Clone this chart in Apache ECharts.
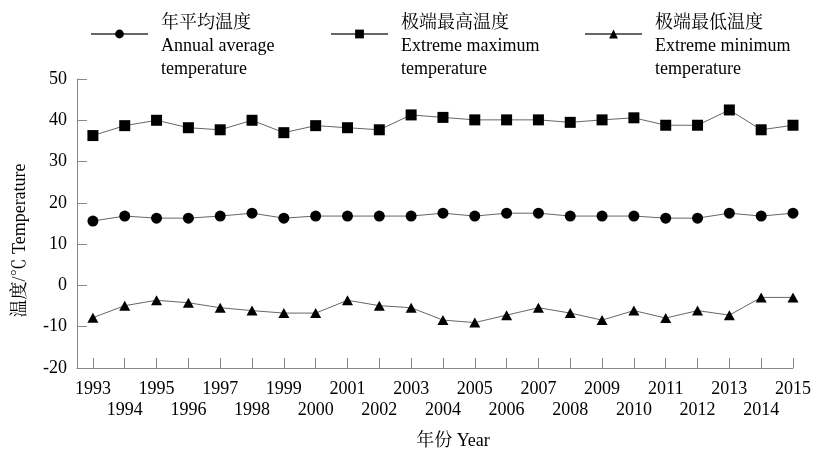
<!DOCTYPE html>
<html>
<head>
<meta charset="utf-8">
<script src="https://cdn.jsdelivr.net/npm/echarts@6/dist/echarts.min.js"></script>
<style>html,body{margin:0;padding:0;background:#fff}#c{width:815px;height:451px}</style>
</head>
<body>
<div id="c"></div>
<script>
var years = [1993,1994,1995,1996,1997,1998,1999,2000,2001,2002,2003,2004,2005,2006,2007,2008,2009,2010,2011,2012,2013,2014,2015];
var avgTemp = [15.6,16.8,16.3,16.3,16.8,17.5,16.3,16.8,16.8,16.8,16.8,17.5,16.8,17.5,17.5,16.8,16.8,16.8,16.3,16.3,17.5,16.8,17.5];
var maxTemp = [36.3,38.7,40.0,38.2,37.7,40.0,37.0,38.7,38.2,37.7,41.3,40.7,40.1,40.1,40.1,39.5,40.1,40.6,38.8,38.8,42.5,37.7,38.8];
var minTemp = [-7.8,-4.9,-3.6,-4.2,-5.4,-6.1,-6.7,-6.7,-3.6,-4.9,-5.4,-8.4,-9.0,-7.2,-5.4,-6.7,-8.4,-6.1,-7.9,-6.1,-7.2,-2.9,-2.9];
var yTicks = [-20,-10,0,10,20,30,40,50];
var oddYearLabels = [1993,1995,1997,1999,2001,2003,2005,2007,2009,2011,2013,2015];
var evenYearLabels = [1994,1996,1998,2000,2002,2004,2006,2008,2010,2012,2014];
var seriesNames = ['年平均温度','极端最高温度','极端最低温度'];
var seriesEn = ['Annual average', 'Extreme maximum', 'Extreme minimum'];

var serif = "'Liberation Serif','Times New Roman',serif";
var cjk = "'Liberation Serif','Noto Serif CJK SC','Noto Sans CJK SC',serif";

function pairs(arr){ return years.map(function(y,i){ return [y, arr[i]]; }); }
function plain(v){ return String(v); }

var legendRich = {
  cn: {fontFamily: cjk, fontSize: 18, lineHeight: 23, color: '#000'},
  en: {fontFamily: serif, fontSize: 18, lineHeight: 23, color: '#000'}
};
function legendFmt(name){
  var i = seriesNames.indexOf(name);
  return '{cn|' + name + '}\n{en|' + seriesEn[i] + '}\n{en|temperature}';
}
var legendLefts = [90, 330, 584];
var legends = seriesNames.map(function(n, i){
  return {
    data: [n], left: legendLefts[i], top: 14, padding: 0,
    itemWidth: 57, itemHeight: 11, selectedMode: false,
    formatter: legendFmt,
    textStyle: {rich: legendRich, padding: [24, 0, 0, 8]}
  };
});

var labelFont = {color: '#000', fontFamily: serif, fontSize: 18, formatter: plain};
var lineStyle = {color: '#666', width: 1};
var chart = echarts.init(document.getElementById('c'), null, {renderer: 'canvas'});
chart.setOption({
  animation: false,
  backgroundColor: '#fff',
  legend: legends,
  grid: {left: 77, right: 22, top: 79, bottom: 83, containLabel: false, outerBoundsMode: 'none'},
  xAxis: [{
    type: 'value', min: 1992.5, max: 2015, position: 'bottom',
    name: '年份 Year', nameLocation: 'middle', nameGap: 64,
    nameTextStyle: {fontFamily: cjk, fontSize: 18, color: '#000', padding: [0, 0, 0, 36]},
    axisLine: {show: true, onZero: false, lineStyle: {color: '#888', width: 1}},
    axisTick: {show: true, inside: true, length: 10, customValues: years, lineStyle: {color: '#888'}},
    axisLabel: Object.assign({customValues: oddYearLabels, margin: 12,
      showMinLabel: true, showMaxLabel: true, hideOverlap: false}, labelFont),
    splitLine: {show: false}
  }, {
    type: 'value', min: 1992.5, max: 2015, position: 'bottom',
    axisLine: {show: false, onZero: false},
    axisTick: {show: false},
    axisLabel: Object.assign({customValues: evenYearLabels, margin: 33,
      showMinLabel: true, showMaxLabel: true, hideOverlap: false}, labelFont),
    splitLine: {show: false}
  }],
  yAxis: {
    type: 'value', min: -20, max: 50, interval: 10,
    name: '温度/℃ Temperature', nameLocation: 'middle', nameGap: 48, nameRotate: 90,
    nameTextStyle: {fontFamily: cjk, fontSize: 18, color: '#000', padding: [0, 34, 0, 0]},
    axisLine: {show: true, onZero: false, lineStyle: {color: '#888', width: 1}},
    axisTick: {show: true, inside: true, length: 10, lineStyle: {color: '#888'}},
    axisLabel: Object.assign({customValues: yTicks, margin: 10,
      showMinLabel: true, showMaxLabel: true, hideOverlap: false}, labelFont),
    splitLine: {show: false}
  },
  series: [
    {name: seriesNames[0], type: 'line', data: pairs(avgTemp), symbol: 'circle', symbolSize: 11,
     lineStyle: lineStyle, itemStyle: {color: '#000'}},
    {name: seriesNames[1], type: 'line', data: pairs(maxTemp), symbol: 'rect', symbolSize: 11,
     lineStyle: lineStyle, itemStyle: {color: '#000'}},
    {name: seriesNames[2], type: 'line', data: pairs(minTemp), symbol: 'triangle', symbolSize: [11, 10],
     lineStyle: lineStyle, itemStyle: {color: '#000'}}
  ]
});
</script>
</body>
</html>
